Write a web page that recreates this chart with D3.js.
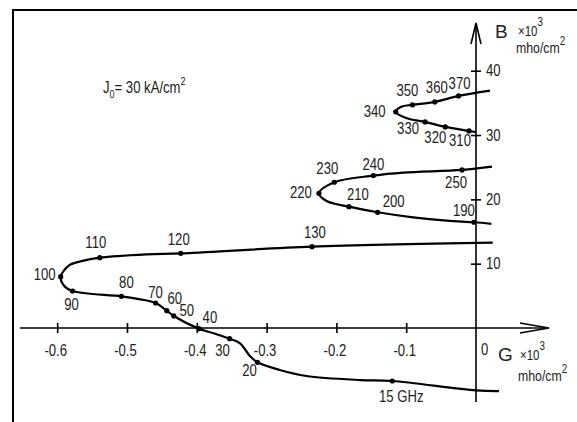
<!DOCTYPE html>
<html>
<head>
<meta charset="utf-8">
<script src="https://cdn.jsdelivr.net/npm/d3@7"></script>
<style>
  html, body { margin: 0; padding: 0; background: #fff; }
  svg { display: block; }
  text { font-family: "Liberation Sans", Arial, sans-serif; fill: #222; }
</style>
</head>
<body>
<div id="graf"></div>
<script>
// valores (G, B en 10^3 mho/cm^2)
// puntos marcados (frecuencia en GHz)
frecuencias = [15, 20, 30, 40, 50, 60, 70, 80, 90, 100, 110, 120, 130,
               190, 200, 210, 220, 230, 240, 250,
               310, 320, 330, 340, 350, 360, 370]
etiquetas = ['15 GHz', '20', '30', '40', '50', '60', '70', '80', '90', '100', '110', '120', '130',
             '190', '200', '210', '220', '230', '240', '250',
             '310', '320', '330', '340', '350', '360', '370']
puntosG = [-0.120, -0.313, -0.353, -0.397, -0.433, -0.443, -0.459, -0.508, -0.578, -0.595, -0.539, -0.423, -0.235,
           -0.003, -0.141, -0.182, -0.225, -0.203, -0.147, -0.020,
           -0.010, -0.044, -0.073, -0.115, -0.091, -0.059, -0.025]
puntosB = [-8.24, -5.33, -1.66, -0.10, 1.87, 2.69, 3.89, 4.93, 5.75, 7.98, 10.93, 11.60, 12.64,
           16.44, 17.99, 18.86, 20.95, 22.66, 23.69, 24.57,
           30.64, 31.26, 32.04, 33.60, 34.70, 35.15, 36.08]

// trazos continuos (incluye puntos intermedios)
tramo1G = [0.033, 0.000, -0.120, -0.166, -0.243, -0.281, -0.313, -0.324, -0.338, -0.353, -0.376, -0.397,
           -0.433, -0.443, -0.459, -0.481, -0.508, -0.578, -0.591, -0.595, -0.582, -0.565, -0.539,
           -0.472, -0.423, -0.235, 0.024]
tramo1B = [-9.80, -9.70, -8.24, -8.09, -7.46, -6.53, -5.33, -4.35, -2.38, -1.66, -0.82, -0.10,
           1.87, 2.69, 3.89, 4.46, 4.93, 5.75, 6.69, 7.98, 9.80, 10.40, 10.93,
           11.45, 11.60, 12.64, 13.27]
tramo2G = [0.022, -0.003, -0.042, -0.090, -0.141, -0.182, -0.214, -0.225, -0.203, -0.147, -0.104, -0.020, 0.023]
tramo2B = [16.20, 16.44, 16.69, 17.20, 17.99, 18.86, 19.75, 20.95, 22.66, 23.69, 24.15, 24.57, 25.09]
tramo3G = [0.000, -0.010, -0.044, -0.073, -0.099, -0.115, -0.107, -0.091, -0.059, -0.025, 0.020]
tramo3B = [30.45, 30.64, 31.26, 32.04, 32.60, 33.60, 34.40, 34.70, 35.15, 36.08, 36.90]

ticksG = [-0.6, -0.5, -0.4, -0.3, -0.2, -0.1]
ticksB = [10, 20, 30, 40]

// posicion de cada etiqueta respecto a su punto [dx centro, dy linea base]
desplaza = [[9, 21], [-8, 14], [-7, 17], [11, -6], [13, 0], [8, -7], [0, -5], [5, -8], [-1, 19], [-16, 3],
            [-4, -10], [-2, -8], [3, -9],
            [-10, -6], [16, -5], [9, -7], [-18, 5], [-7, -8], [0, -6], [-6, 18],
            [-9, 15], [-10, 16], [-17, 12], [-21, 5], [-5, -9], [2, -9], [1, -7]]

ancho_total = 577
alto_total = 422

svg = d3.select('#graf').append('svg')
        .attr('width', ancho_total)
        .attr('height', alto_total)

// escalas
x = d3.scaleLinear().domain([-0.6, 0]).range([57.2, 476])
y = d3.scaleLinear().domain([0, 40]).range([328, 70.7])

// marco
svg.append('path')
   .attr('d', 'M13,430 V10 H580')
   .attr('fill', 'none')
   .attr('stroke', '#000')
   .attr('stroke-width', 2)

// eje G
svg.append('line')
   .attr('x1', 20).attr('x2', 548)
   .attr('y1', y(0)).attr('y2', y(0))
   .attr('stroke', '#000').attr('stroke-width', 1.6)
svg.append('path')
   .attr('d', `M520,${y(0) - 5} L549,${y(0)} L520,${y(0) + 5}`)
   .attr('fill', 'none').attr('stroke', '#000').attr('stroke-width', 1.6)

ejeX = svg.append('g')
          .attr('transform', `translate(0, ${y(0) - 5})`)
          .call(d3.axisBottom(x).tickValues(ticksG).tickSize(10).tickPadding(12)
                  .tickFormat(d => d3.format('.1f')(d).replace('−', '-')))
ejeX.select('.domain').remove()
ejeX.selectAll('line').attr('stroke', '#000').attr('stroke-width', 1.6)
ejeX.selectAll('text').attr('dx', -2).style('font-size', '16px')
     .style('font-family', '"Liberation Sans", Arial, sans-serif').attr('fill', '#222')

// eje B
svg.append('line')
   .attr('x1', x(0)).attr('x2', x(0))
   .attr('y1', 402).attr('y2', 24)
   .attr('stroke', '#000').attr('stroke-width', 1.6)
svg.append('path')
   .attr('d', `M${x(0) - 5},44 L${x(0)},23 L${x(0) + 5},44`)
   .attr('fill', 'none').attr('stroke', '#000').attr('stroke-width', 1.6)

ejeY = svg.append('g')
          .attr('transform', `translate(${x(0) + 5}, 0)`)
          .call(d3.axisLeft(y).tickValues(ticksB).tickSize(10).tickPadding(-15))
ejeY.select('.domain').remove()
ejeY.selectAll('line').attr('stroke', '#000').attr('stroke-width', 1.6)
ejeY.selectAll('text').attr('text-anchor', 'start').style('font-size', '16px')
     .style('font-family', '"Liberation Sans", Arial, sans-serif').attr('fill', '#222')

// cero del origen
svg.append('text').attr('x', 481).attr('y', 355).style('font-size', '16px').text('0')

// curvas
linea = d3.line()
          .x(d => x(d[0]))
          .y(d => y(d[1]))
          .curve(d3.curveCatmullRom.alpha(0.5))

tramos = [[tramo1G, tramo1B], [tramo2G, tramo2B], [tramo3G, tramo3B]]
tramos.forEach(t => {
  svg.append('path')
     .datum(t[0].map((g, i) => [g, t[1][i]]))
     .attr('d', linea)
     .attr('fill', 'none')
     .attr('stroke', '#000')
     .attr('stroke-width', 2.2)
     .attr('stroke-linejoin', 'round')
})

// puntos y etiquetas
puntos = frecuencias.map((f, i) => ({ f: f, g: puntosG[i], b: puntosB[i], txt: etiquetas[i], d: desplaza[i] }))

svg.selectAll('circle.punto')
   .data(puntos)
   .enter().append('circle')
   .attr('class', 'punto')
   .attr('cx', d => x(d.g))
   .attr('cy', d => y(d.b))
   .attr('r', 2.6)
   .attr('fill', '#000')

svg.selectAll('text.etiqueta')
   .data(puntos)
   .enter().append('text')
   .attr('class', 'etiqueta')
   .attr('x', d => x(d.g) + d.d[0])
   .attr('y', d => y(d.b) + d.d[1])
   .attr('text-anchor', 'middle')
   .style('font-size', '16px')
   .text(d => d.txt)

// titulos de los ejes
tB = svg.append('text').attr('x', 495).attr('y', 38).style('font-size', '19px').attr('class', 'ancho').text('B')
tx1 = svg.append('text').attr('x', 518).attr('y', 36).style('font-size', '14px')
tx1.append('tspan').text('×10')
tx1.append('tspan').attr('dy', -10).style('font-size', '12px').text('3')
tm1 = svg.append('text').attr('x', 516).attr('y', 53).style('font-size', '15px')
tm1.append('tspan').text('mho/cm')
tm1.append('tspan').attr('dy', -8).style('font-size', '12px').text('2')

tG = svg.append('text').attr('x', 498).attr('y', 361).style('font-size', '19px').attr('class', 'ancho').text('G')
tx2 = svg.append('text').attr('x', 520).attr('y', 360).style('font-size', '14px')
tx2.append('tspan').text('×10')
tx2.append('tspan').attr('dy', -10).style('font-size', '12px').text('3')
tm2 = svg.append('text').attr('x', 518).attr('y', 381).style('font-size', '15px')
tm2.append('tspan').text('mho/cm')
tm2.append('tspan').attr('dy', -8).style('font-size', '12px').text('2')

// condicion
tJ = svg.append('text').attr('x', 103).attr('y', 93).style('font-size', '16px')
tJ.append('tspan').text('J')
tJ.append('tspan').attr('dy', 5).style('font-size', '11px').text('0')
tJ.append('tspan').attr('dy', -5).text('= 30 kA/cm')
tJ.append('tspan').attr('dy', -8).style('font-size', '11px').text('2')

// letra estrecha como en el original: comprimir en horizontal sobre su ancla
svg.selectAll('text').filter(function() { return !this.classList.contains('ancho') })
   .each(function() {
     t = d3.select(this)
     px = (parseFloat(t.attr('x')) || 0) + (parseFloat(t.attr('dx')) || 0)
     t.attr('transform', `translate(${px},0) scale(0.82,1) translate(${-px},0)`)
   })
</script>
</body>
</html>
